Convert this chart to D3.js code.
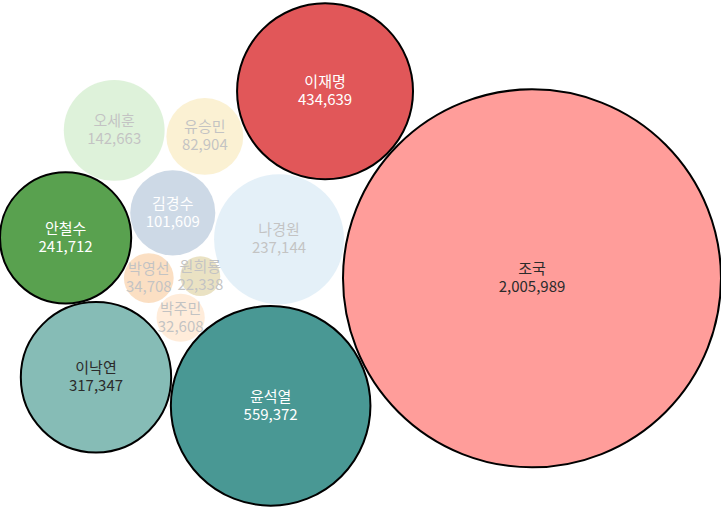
<!DOCTYPE html>
<html>
<head>
<meta charset="utf-8">
<script src="https://cdn.jsdelivr.net/npm/d3@7"></script>
<style>
  html, body { margin: 0; padding: 0; background: #fff; }
  svg { display: block; }
  text { font-family: "Noto Sans CJK KR", "Noto Sans", sans-serif; }
</style>
</head>
<body>
<svg id="chart" width="721" height="509"></svg>
<script>
// ---------------- data ----------------
const names  = ["김경수","나경원","박영선","박주민","안철수","오세훈","원희룡","유승민","윤석열","이낙연","이재명","조국"];
const values = [101609, 237144, 34708, 32608, 241712, 142663, 22338, 82904, 559372, 317347, 434639, 2005989];
const highlightCount = 5;   // top-N bubbles drawn at full strength

// order in which bubbles are handed to d3.packSiblings
const packOrder = ["나경원","박영선","윤석열","박주민","원희룡","조국","김경수","안철수","오세훈","이낙연","이재명","유승민"];

// ---------------- styles / layout settings ----------------
const CW = 721, CH = 509;
const palette = ["#4E79A7","#A0CBE8","#F28E2B","#FFBE7D","#59A14F","#8CD17D","#B6992D","#F1CE63",
                 "#499894","#86BCB6","#E15759","#FF9D9A"];
const maxRadius = 189;
const layoutRotation = 144.281;   // degrees
const layoutMirror = -1;
const fadedOpacity = 0.28;

// ---------------- scales ----------------
const color  = d3.scaleOrdinal().domain(names).range(palette);
const rScale = d3.scaleSqrt().domain([0, d3.max(values)]).range([0, maxRadius]);
const fmt    = d3.format(",");
const threshold = values.slice().sort((a, b) => b - a)[highlightCount - 1];

const nodes = names.map((name, i) => ({
  name, value: values[i], r: rScale(values[i]), hi: values[i] >= threshold
}));
const byName = new Map(nodes.map(d => [d.name, d]));

// ---------------- layout: pack siblings, orient, then relax with forces ----------------
const packed = packOrder.map(nm => ({ node: byName.get(nm), r: byName.get(nm).r + 1 }));
d3.packSiblings(packed);
const th = layoutRotation * Math.PI / 180, ct = Math.cos(th), st = Math.sin(th);
packed.forEach(p => {
  const X = p.x, Y = p.y * layoutMirror;
  p.node.x = ct * X - st * Y;
  p.node.y = st * X + ct * Y;
});
function centre() {
  const x0 = d3.min(nodes, d => d.x - d.r), x1 = d3.max(nodes, d => d.x + d.r);
  const y0 = d3.min(nodes, d => d.y - d.r), y1 = d3.max(nodes, d => d.y + d.r);
  const dx = CW / 2 - (x0 + x1) / 2, dy = CH / 2 - (y0 + y1) / 2;
  nodes.forEach(d => { d.x += dx; d.y += dy; });
}
centre();

const sim = d3.forceSimulation(nodes)
  .force("x", d3.forceX(CW / 2).strength(0.01))
  .force("y", d3.forceY(CH / 2).strength(0.08))
  .force("collide", d3.forceCollide(d => d.r + 1).iterations(3))
  .stop();
for (let t = 0; t < 300; t++) {
  sim.tick();
  nodes.forEach(d => {
    d.x = Math.max(d.r, Math.min(CW - d.r, d.x));
    d.y = Math.max(d.r, Math.min(CH - d.r, d.y));
  });
}
centre();

// ---------------- draw ----------------
const svg = d3.select("#chart");
const g = svg.selectAll("g.bubble").data(nodes).join("g")
  .attr("class", "bubble")
  .attr("transform", d => `translate(${d.x},${d.y})`)
  .attr("opacity", d => d.hi ? 1 : fadedOpacity);

g.append("circle")
  .attr("r", d => d.r)
  .attr("fill", d => color(d.name))
  .attr("stroke", d => d.hi ? "#000" : "none")
  .attr("stroke-width", 2);

const textColor = d => d3.lab(color(d.name)).l > 62 ? "#2b2b2b" : "#fff";
const label = g.append("text")
  .attr("text-anchor", "middle")
  .attr("font-size", 15)
  .attr("fill", textColor);
label.append("tspan")
  .attr("x", 0)
  .attr("y", -4)
  .text(d => d.name);
label.append("tspan")
  .attr("x", 0)
  .attr("y", 14)
  .text(d => fmt(d.value));
</script>
</body>
</html>
